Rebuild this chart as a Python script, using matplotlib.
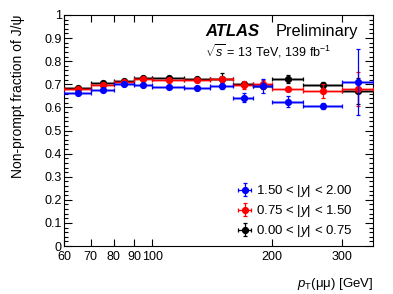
import matplotlib
matplotlib.use("Agg")
import matplotlib.pyplot as plt
from matplotlib.ticker import FixedLocator, MultipleLocator, NullLocator
import numpy as np

plt.rcParams['font.family'] = ['Liberation Sans', 'DejaVu Sans']
plt.rcParams['mathtext.fontset'] = 'custom'
plt.rcParams['mathtext.rm'] = 'Liberation Sans'
plt.rcParams['mathtext.it'] = 'Liberation Sans:italic'

# bin edges in pT [GeV]
edges = np.array([60, 70, 80, 90, 100, 120, 140, 160, 180, 200, 240, 300, 360])

# non-prompt fraction per rapidity slice
frac_fwd = [0.661, 0.675, 0.701, 0.698, 0.687, 0.685, 0.693, 0.642, 0.693, 0.625, 0.606, 0.711]
err_fwd = [0.005, 0.005, 0.005, 0.005, 0.005, 0.005, 0.012, 0.02, 0.032, 0.025, 0.013, 0.143]
frac_mid = [0.678, 0.696, 0.711, 0.723, 0.719, 0.717, 0.722, 0.696, 0.700, 0.678, 0.671, 0.680]
err_mid = [0.005, 0.005, 0.005, 0.005, 0.005, 0.005, 0.01, 0.017, 0.02, 0.008, 0.032, 0.075]
frac_cen = [0.685, 0.704, 0.714, 0.726, 0.727, 0.723, 0.724, 0.700, 0.693, 0.722, 0.698, 0.672]
err_cen = [0.005, 0.005, 0.005, 0.005, 0.005, 0.005, 0.027, 0.01, 0.01, 0.017, 0.012, 0.056]

labels = [r"1.50 < |$y$| < 2.00", r"0.75 < |$y$| < 1.50", r"0.00 < |$y$| < 0.75"]
colors = ["#0000ff", "#ff0000", "#000000"]
band_alpha = [0.4, 0.3, 0.4]

centers = 0.5 * (edges[:-1] + edges[1:])
xlo = centers - edges[:-1]
xhi = edges[1:] - centers

fig = plt.figure(figsize=(3.93, 2.94), dpi=100)
ax = fig.add_axes([0.163, 0.163, 0.786, 0.786])

series = [(frac_fwd, err_fwd), (frac_mid, err_mid), (frac_cen, err_cen)]
handles = {}
# black first, blue on top
for i in [2, 1, 0]:
    vals, errs = series[i]
    z = 2 + 2 * (2 - i)
    ax.hlines(vals, edges[:-1], edges[1:], colors=colors[i], lw=2.2, alpha=band_alpha[i], zorder=z)
    h = ax.errorbar(centers, vals, yerr=errs, xerr=[xlo, xhi], fmt='o', color=colors[i],
                    ms=4.2, lw=0.9, capsize=1.5, capthick=0.9, zorder=z + 1, label=labels[i])
    handles[i] = h

ax.set_xscale('log')
ax.set_xlim(60, 360)
ax.set_ylim(0, 1)
ax.xaxis.set_major_locator(FixedLocator([60, 70, 80, 90, 100, 200, 300]))
ax.xaxis.set_minor_locator(NullLocator())
ax.set_xticklabels(["60", "70", "80", "90", "100", "200", "300"])
ax.set_yticks(np.arange(0, 1.01, 0.1))
ax.set_yticklabels(["0", "0.1", "0.2", "0.3", "0.4", "0.5", "0.6", "0.7", "0.8", "0.9", "1"])
ax.yaxis.set_minor_locator(MultipleLocator(0.02))
ax.tick_params(which='both', direction='in', top=True, right=True, labelsize=9)
ax.tick_params(axis='y', which='major', length=6, width=0.8, pad=1.5)
ax.tick_params(axis='y', which='minor', length=3, width=0.8)
ax.tick_params(axis='x', which='major', length=5, width=0.8, pad=3.5)

ax.set_ylabel("Non-prompt fraction of J/ψ", fontsize=10, ha='right', y=1.0)
ax.yaxis.set_label_coords(-0.125, 1.0)
ax.set_xlabel(r"$p_{\mathrm{T}}$(μμ) [GeV]", fontsize=9.5, ha='right', x=1.0)
ax.xaxis.set_label_coords(1.0, -0.13)

ax.text(0.456, 0.91, "ATLAS", transform=ax.transAxes, fontsize=12, fontweight='bold',
        fontstyle='italic')
ax.text(0.685, 0.91, "Preliminary", transform=ax.transAxes, fontsize=11.8)
ax.text(0.456, 0.82, r"$\sqrt{s}$ = 13 TeV, 139 fb$^{-1}$", transform=ax.transAxes, fontsize=9)

ax.legend(handles=[handles[0], handles[1], handles[2]], loc='upper left',
          bbox_to_anchor=(0.54, 0.3), frameon=False,
          fontsize=9.5, handlelength=1.1, handletextpad=0.3, labelspacing=0.3, borderpad=0)

fig.savefig("out.png", dpi=100)
